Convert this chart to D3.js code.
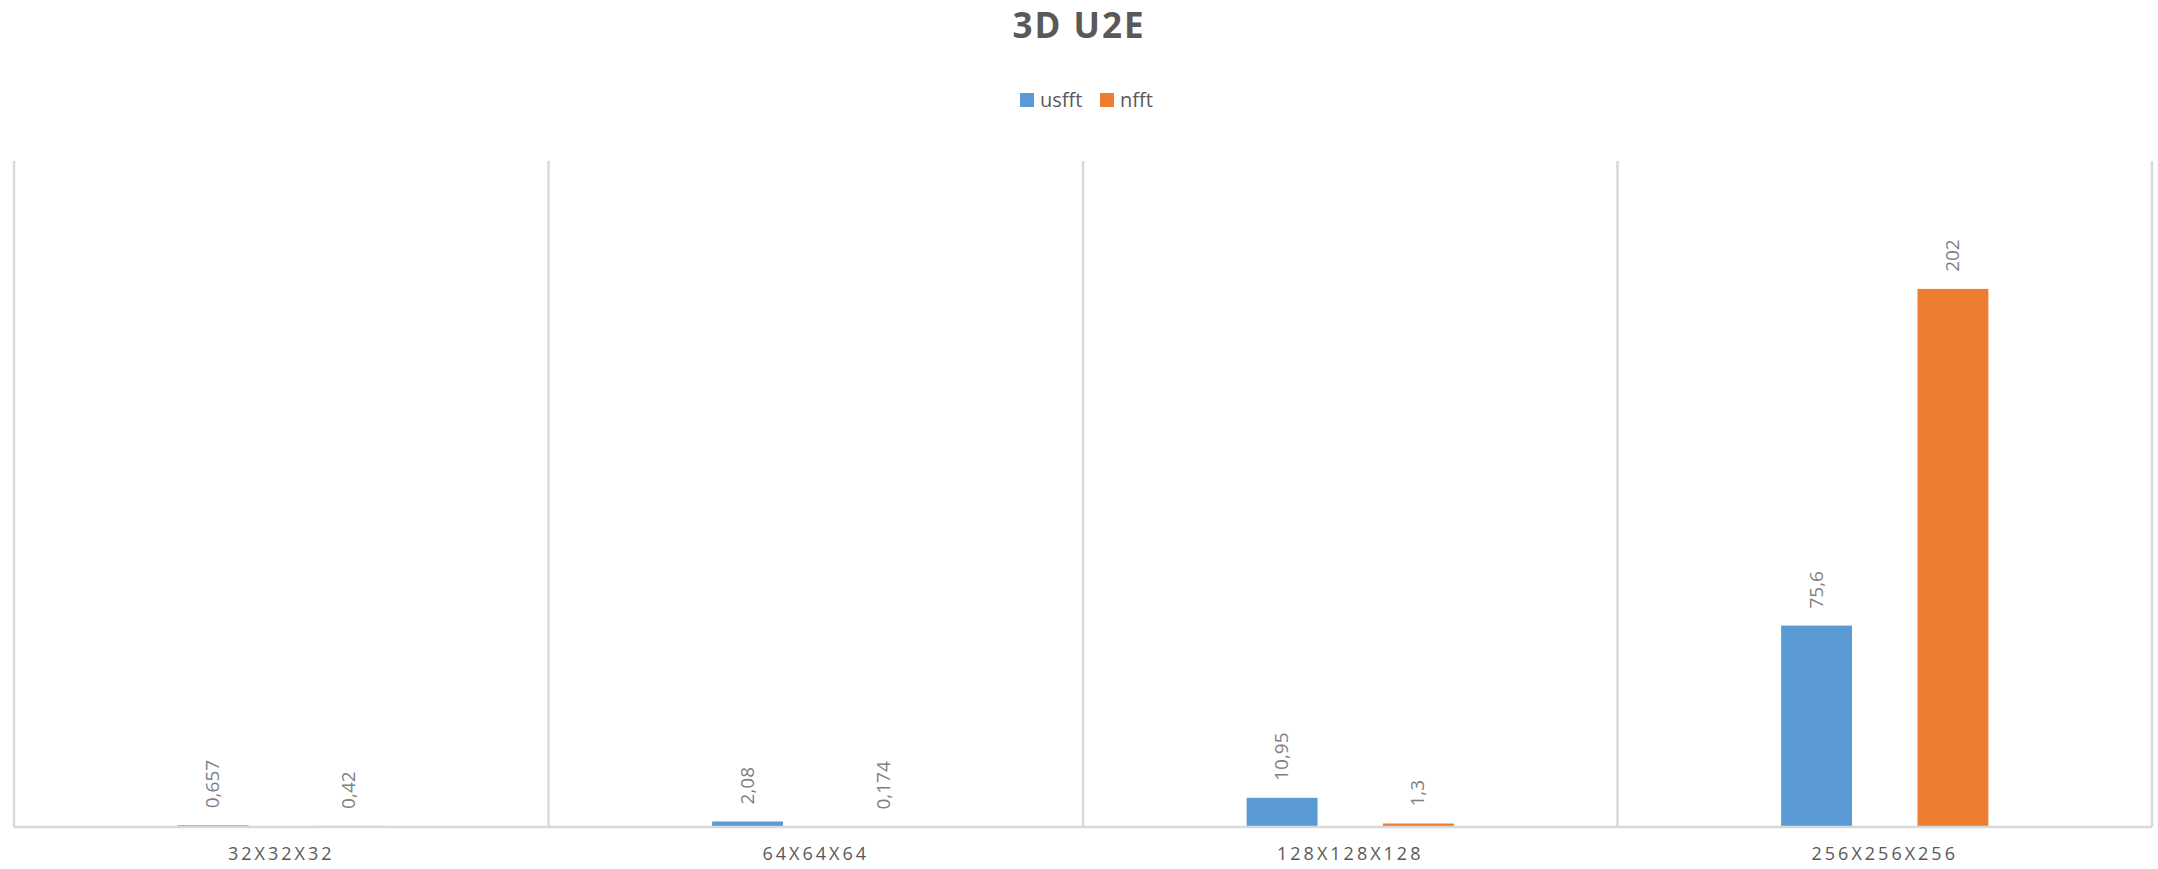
<!DOCTYPE html>
<html>
<head>
<meta charset="utf-8">
<script src="https://cdn.jsdelivr.net/npm/d3@7"></script>
<style>
  body { margin: 0; background: #fff; }
</style>
</head>
<body>
<svg></svg>
<script>
const categories = ["32X32X32", "64X64X64", "128X128X128", "256X256X256"];
const seriesNames = ["usfft", "nfft"];
const usfft = [0.657, 2.08, 10.95, 75.6];
const nfft = [0.42, 0.174, 1.3, 202];
const labels = {
  usfft: ["0,657", "2,08", "10,95", "75,6"],
  nfft: ["0,42", "0,174", "1,3", "202"]
};

const width = 2158;
const height = 869;
const margin = { top: 161, right: 6, bottom: 42, left: 14 };
const font = '"Open Sans", "Liberation Sans", sans-serif';

const svg = d3.select("svg")
  .attr("width", width)
  .attr("height", height)
  .style("font-family", font);

const color = d3.scaleOrdinal()
  .domain(seriesNames)
  .range(["#5b9bd5", "#ed7d31"]);

const x = d3.scaleBand()
  .domain(categories)
  .range([margin.left, width - margin.right]);

const x1 = d3.scaleBand()
  .domain(seriesNames)
  .range([0, x.bandwidth()])
  .paddingInner(0.48)
  .paddingOuter(1.2);

const y = d3.scaleLinear()
  .domain([0, 250])
  .range([height - margin.bottom, margin.top]);

const rows = categories.map((c, i) => ({ cat: c, usfft: usfft[i], nfft: nfft[i], i }));

// vertical category gridlines
svg.append("g")
  .selectAll("line")
  .data(categories.map(c => x(c)).concat([x.range()[1]]))
  .enter()
  .append("line")
  .attr("x1", d => d)
  .attr("x2", d => d)
  .attr("y1", margin.top)
  .attr("y2", y(0))
  .attr("stroke", "#d9d9d9")
  .attr("stroke-width", 2.5);

const groups = svg.append("g")
  .selectAll("g")
  .data(rows)
  .enter()
  .append("g")
  .attr("transform", d => `translate(${x(d.cat)},0)`);

groups.selectAll("rect")
  .data(d => seriesNames.map(s => ({ s, v: d[s], i: d.i })))
  .enter()
  .append("rect")
  .attr("x", d => x1(d.s))
  .attr("width", x1.bandwidth())
  .attr("y", d => y(d.v))
  .attr("height", d => y(0) - y(d.v))
  .attr("fill", d => color(d.s));

groups.selectAll("text")
  .data(d => seriesNames.map(s => ({ s, v: d[s], i: d.i })))
  .enter()
  .append("text")
  .attr("transform", d => `translate(${x1(d.s) + x1.bandwidth() / 2 + 6},${y(d.v) - 17}) rotate(-90)`)
  .attr("text-anchor", "start")
  .style("font-size", "19px")
  .attr("fill", "#7f7f7f")
  .text(d => labels[d.s][d.i]);

// baseline
svg.append("line")
  .attr("x1", margin.left)
  .attr("x2", width - margin.right)
  .attr("y1", y(0))
  .attr("y2", y(0))
  .attr("stroke", "#d9d9d9")
  .attr("stroke-width", 2.5);

// category labels
const xAxis = svg.append("g")
  .attr("transform", `translate(0,${y(0)})`)
  .call(d3.axisBottom(x).tickSize(0).tickPadding(20));
xAxis.select(".domain").remove();
xAxis.selectAll("text")
  .style("font-family", font)
  .style("font-size", "18px")
  .style("letter-spacing", "3px")
  .attr("fill", "#595959");

// title
svg.append("text")
  .attr("x", width / 2)
  .attr("y", 38)
  .attr("text-anchor", "middle")
  .style("font-size", "35px")
  .style("font-weight", 700)
  .style("letter-spacing", "2px")
  .attr("fill", "#595959")
  .text("3D U2E");

// legend
const legend = svg.append("g")
  .attr("transform", "translate(1020,93)");

const legendRows = legend.selectAll("g")
  .data(seriesNames)
  .enter()
  .append("g")
  .attr("transform", (d, i) => `translate(${i * 80},0)`);

legendRows.append("rect")
  .attr("width", 14)
  .attr("height", 14)
  .attr("fill", d => color(d));

legendRows.append("text")
  .attr("x", 20)
  .attr("y", 14)
  .style("font-size", "20px")
  .attr("fill", "#595959")
  .text(d => d);
</script>
</body>
</html>
